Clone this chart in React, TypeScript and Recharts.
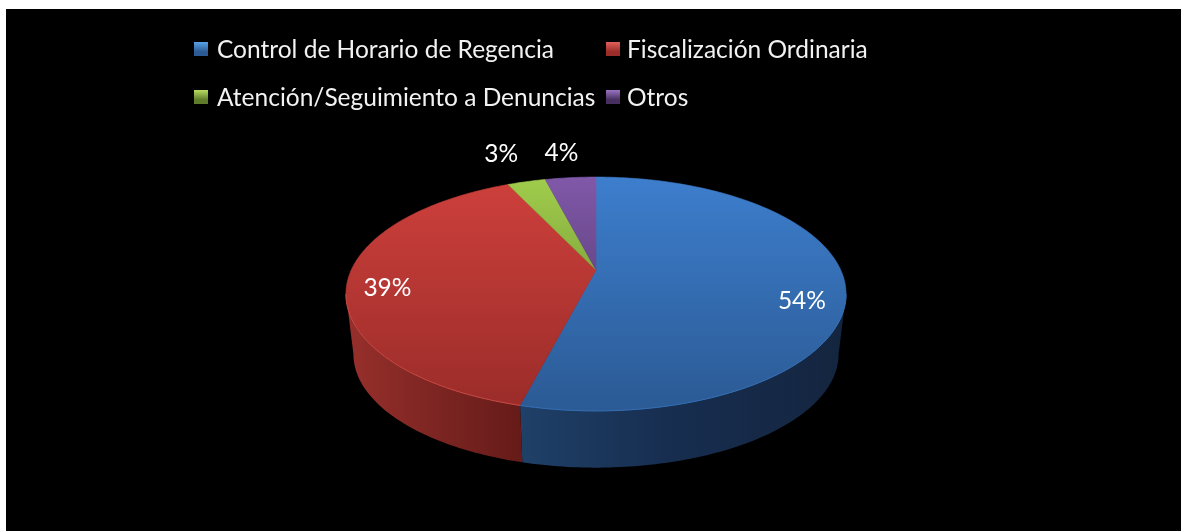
import { PieChart, Pie, Legend } from 'recharts';

const categories = [
  'Control de Horario de Regencia',
  'Fiscalización Ordinaria',
  'Atención/Seguimiento a Denuncias',
  'Otros',
];
const shares = [54, 39, 3, 4];
const labels = ['54%', '39%', '3%', '4%'];

const faceTop = ['#3d7ecd', '#ce403c', '#a0cd4c', '#8058a8'];
const faceBottom = ['#2b5a94', '#9a2c29', '#5f7c2b', '#47305f'];
const swatchTop = ['#58a3e6', '#e2605a', '#b8dc60', '#9a74c4'];
const rimColors = ['#3570b8', '#c94a45', '#a0cd4c', '#8058a8'];

const data = categories.map((name, i) => ({ name, value: shares[i], label: labels[i] }));

const WIDTH = 1181;
const HEIGHT = 531;
const CX = 596;
const CY = 270;
const RADIUS = 250;

// the pie is tilted in perspective, so the far half is squeezed against the near one
const TILT = 0.205;
const X_SCALE = 0.979;
const Y_SCALE = 0.448;
// lower rim of the disc
const DEPTH_SCALE = 0.97;
const DEPTH_DROP = 61;
// angles where the rim leaves the silhouette
const WALL_RIGHT = -11.8;
const WALL_LEFT = -168.2;

const labelPlacement = [
  { f: 0.83, dx: 0, dy: 18 },
  { f: 0.85, dx: 2, dy: 7 },
  { f: 1.2, dx: -14, dy: -15 },
  { f: 1.2, dx: -5, dy: -11 },
];

function project(deg: number, r: number, f = 1) {
  const t = (deg * Math.PI) / 180;
  const u = Math.cos(t) * f;
  const v = Math.sin(t) * f;
  const d = 1 + TILT * v;
  return { x: (r * X_SCALE * u) / d, y: (-r * Y_SCALE * v) / d };
}

function top(cx: number, cy: number, r: number, deg: number) {
  const p = project(deg, r);
  return { x: cx + p.x, y: cy + p.y };
}

function lower(cx: number, cy: number, r: number, deg: number) {
  const p = project(deg, r);
  return { x: cx + p.x * DEPTH_SCALE, y: cy + DEPTH_DROP + p.y * DEPTH_SCALE };
}

function sweep(from: number, to: number) {
  const steps = Math.max(2, Math.ceil(Math.abs(to - from)));
  return Array.from({ length: steps + 1 }, (_, i) => from + ((to - from) * i) / steps);
}

const toPath = (pts: { x: number; y: number }[]) =>
  pts.map((p, i) => `${i ? 'L' : 'M'}${p.x.toFixed(2)} ${p.y.toFixed(2)}`).join(' ');

// eslint-disable-next-line @typescript-eslint/no-explicit-any
function Slice3D(props: any) {
  const { cx, cy, outerRadius, startAngle, endAngle, index } = props;
  const arc = sweep(startAngle, endAngle);
  const face = [{ x: cx, y: cy }, ...arc.map((a) => top(cx, cy, outerRadius, a))];

  const from = Math.min(startAngle, WALL_RIGHT);
  const to = Math.max(endAngle, WALL_LEFT);
  const hasWall = from > to;
  const front = hasWall ? sweep(from, to) : [];
  const rimPts = front.map((a) => top(cx, cy, outerRadius, a));
  const wall = [...rimPts, ...front.slice().reverse().map((a) => lower(cx, cy, outerRadius, a))];

  return (
    <g>
      {hasWall && <path d={`${toPath(wall)} Z`} fill={`url(#wall${index})`} />}
      <path
        d={`${toPath(face)} Z`}
        fill={`url(#face${index})`}
        stroke={`url(#face${index})`}
        strokeWidth={0.6}
      />
      {hasWall && <path d={toPath(rimPts)} fill="none" stroke={rimColors[index]} strokeWidth={1} />}
    </g>
  );
}

// eslint-disable-next-line @typescript-eslint/no-explicit-any
function SliceLabel(props: any) {
  const { cx, cy, outerRadius, midAngle, index } = props;
  const place = labelPlacement[index];
  const p = project(midAngle, outerRadius, place.f);
  return (
    <text
      x={cx + p.x + place.dx}
      y={cy + p.y + place.dy}
      fill="#ffffff"
      fontSize={24.5}
      fontFamily="Lato, sans-serif"
      textAnchor="middle"
      dominantBaseline="central"
    >
      {labels[index]}
    </text>
  );
}

function ChartLegend() {
  return (
    <div
      style={{
        display: 'grid',
        gridTemplateColumns: '412px 270px',
        rowGap: 18,
        fontFamily: 'Lato, sans-serif',
        fontSize: 24.5,
        lineHeight: '30px',
        color: '#f2f2f2',
      }}
    >
      {categories.map((name, i) => (
        <div key={name} style={{ display: 'flex', alignItems: 'center', whiteSpace: 'nowrap' }}>
          <span
            style={{
              flexShrink: 0,
              width: 14,
              height: 14,
              marginRight: i % 2 ? 7 : 9,
              background: `linear-gradient(180deg, ${swatchTop[i]} 0%, ${faceBottom[i]} 70%)`,
            }}
          />
          {name}
        </div>
      ))}
    </div>
  );
}

export default function App() {
  return (
    <div style={{ position: 'fixed', left: 0, top: 0, width: WIDTH, height: HEIGHT, background: '#ffffff' }}>
      <div
        style={{
          position: 'absolute',
          left: 6,
          top: 9,
          width: WIDTH - 6,
          height: HEIGHT - 9,
          background: '#000000',
        }}
      />
      <div style={{ position: 'absolute', left: 0, top: 0, filter: 'blur(0.6px)' }}>
        <PieChart width={WIDTH} height={HEIGHT} margin={{ top: 0, right: 0, bottom: 0, left: 0 }}>
          <defs>
            {faceTop.map((c, i) => (
              <linearGradient key={c} id={`face${i}`} gradientUnits="userSpaceOnUse" x1="0" y1="177" x2="0" y2="411">
                <stop offset="0%" stopColor={c} />
                <stop offset="100%" stopColor={faceBottom[i]} />
              </linearGradient>
            ))}
            <linearGradient id="wall0" gradientUnits="userSpaceOnUse" x1="521" y1="0" x2="840" y2="0">
              <stop offset="0%" stopColor="#1f4068" />
              <stop offset="45%" stopColor="#172e50" />
              <stop offset="100%" stopColor="#14253f" />
            </linearGradient>
            <linearGradient id="wall1" gradientUnits="userSpaceOnUse" x1="350" y1="0" x2="522" y2="0">
              <stop offset="0%" stopColor="#962f2b" />
              <stop offset="55%" stopColor="#7a2421" />
              <stop offset="100%" stopColor="#661b19" />
            </linearGradient>
          </defs>
          <Legend
            content={<ChartLegend />}
            wrapperStyle={{ position: 'absolute', left: 194, top: 34, width: 700 }}
          />
          <Pie
            data={data}
            dataKey="value"
            nameKey="name"
            cx={CX}
            cy={CY}
            outerRadius={RADIUS}
            startAngle={90}
            endAngle={-270}
            paddingAngle={0}
            stroke="none"
            shape={Slice3D}
            label={SliceLabel}
            labelLine={false}
            isAnimationActive={false}
          />
        </PieChart>
      </div>
    </div>
  );
}
